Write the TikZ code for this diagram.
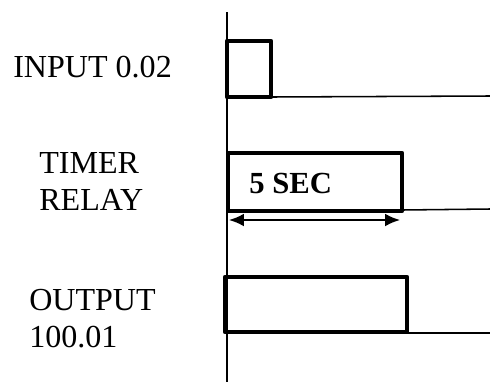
\documentclass[tikz,border=0pt]{standalone}
\usepackage{fontspec}
\setmainfont{Liberation Serif}
\usetikzlibrary{arrows.meta}

\begin{document}
\begin{tikzpicture}[x=0.025cm,y=-0.025cm,
  lbl/.style={anchor=base west,inner sep=0pt,align=left,font=\fontsize{22.8}{26.3}\selectfont},
  pulse/.style={line width=3pt,line join=round},
  timeline/.style={line width=1.1pt}]
  \useasboundingbox (0,0) rectangle (490,382);
  \draw[timeline] (227,12) coordinate (t0) -- (227,382) coordinate (t1);
  % input 0.02
  \node[lbl] (input) at (13,77) {INPUT 0.02};
  \draw[pulse] (227,97) rectangle (271,41);
  \draw[timeline] (271,97) coordinate (in0) -- (490,96) coordinate (in1);
  % timer relay
  \node[lbl] (timer) at (39,210) {TIMER\\RELAY};
  \draw[pulse] (228,211) rectangle (402,153);
  \draw[timeline] (402,210) coordinate (tr0) -- (490,209) coordinate (tr1);
  \node[anchor=base west,inner sep=0pt,font=\fontsize{21.8}{25}\selectfont\bfseries] (delay) at (249,193) {5 SEC};
  \coordinate (d0) at (229,220); \coordinate (d1) at (400,220);
  \draw[line width=1.4pt,{Latex[length=10.5pt,width=9pt]}-{Latex[length=10.5pt,width=9pt]}] (d0) -- (d1);
  % output 100.01
  \node[lbl] (output) at (29,347) {OUTPUT\\100.01};
  \draw[pulse] (225,332) rectangle (407,277);
  \draw[timeline] (407,333) coordinate (out0) -- (490,333) coordinate (out1);
\end{tikzpicture}
\end{document}
